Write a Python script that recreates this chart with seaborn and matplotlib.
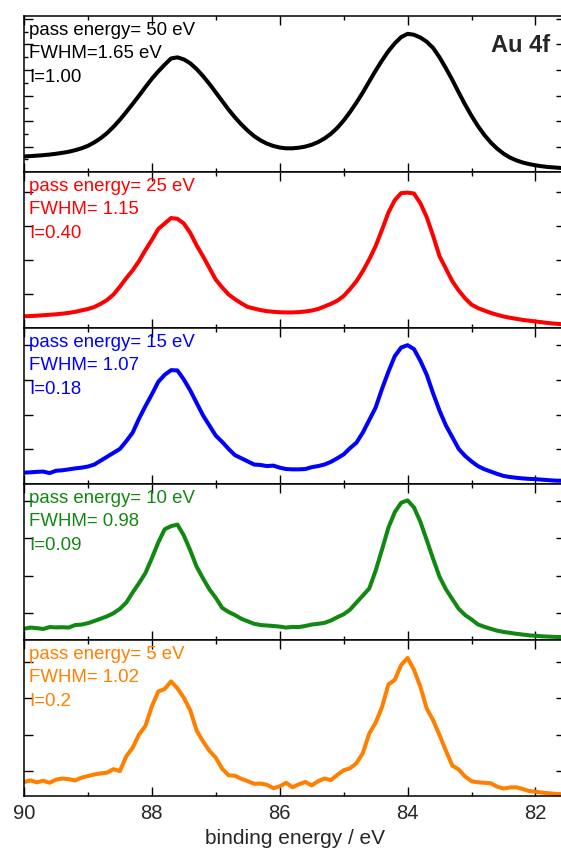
import numpy as np
import matplotlib
matplotlib.use("Agg")
import matplotlib.pyplot as plt
import seaborn as sns
from matplotlib.ticker import FixedLocator, MultipleLocator

# binding energy grid (eV), 0.1 eV steps
energy = np.linspace(90.0, 81.6, 85)

# normalised intensities (top to bottom)
pe50 = [0.100, 0.102, 0.105, 0.108, 0.112, 0.117, 0.123, 0.130, 0.140, 0.152,
        0.168, 0.190, 0.217, 0.250, 0.290, 0.335, 0.385, 0.437, 0.490, 0.545,
        0.598, 0.645, 0.688, 0.728, 0.735, 0.722, 0.697, 0.660, 0.615, 0.565,
        0.510, 0.455, 0.400, 0.350, 0.305, 0.265, 0.230, 0.203, 0.182, 0.167,
        0.157, 0.152, 0.152, 0.156, 0.163, 0.175, 0.192, 0.215, 0.245, 0.283,
        0.330, 0.385, 0.445, 0.510, 0.580, 0.650, 0.715, 0.775, 0.825, 0.865,
        0.886, 0.880, 0.862, 0.835, 0.795, 0.735, 0.665, 0.590, 0.510, 0.432,
        0.360, 0.295, 0.238, 0.190, 0.150, 0.118, 0.093, 0.075, 0.061, 0.051,
        0.043, 0.037, 0.032, 0.029, 0.026]

pe25 = [0.075, 0.077, 0.079, 0.082, 0.085, 0.088, 0.092, 0.097, 0.104, 0.113,
        0.122, 0.135, 0.155, 0.180, 0.215, 0.265, 0.320, 0.370, 0.430, 0.500,
        0.565, 0.635, 0.670, 0.705, 0.700, 0.670, 0.610, 0.530, 0.460, 0.385,
        0.310, 0.260, 0.215, 0.185, 0.158, 0.135, 0.125, 0.115, 0.108, 0.104,
        0.101, 0.100, 0.100, 0.102, 0.106, 0.112, 0.122, 0.138, 0.155, 0.175,
        0.205, 0.250, 0.300, 0.365, 0.440, 0.525, 0.630, 0.740, 0.820, 0.865,
        0.868, 0.862, 0.800, 0.710, 0.590, 0.460, 0.380, 0.300, 0.240, 0.190,
        0.150, 0.128, 0.112, 0.097, 0.085, 0.074, 0.066, 0.059, 0.052, 0.047,
        0.042, 0.037, 0.032, 0.028, 0.025]

pe15 = [0.073, 0.075, 0.078, 0.080, 0.070, 0.085, 0.088, 0.094, 0.100, 0.105,
        0.112, 0.125, 0.150, 0.175, 0.200, 0.225, 0.275, 0.330, 0.420, 0.500,
        0.575, 0.655, 0.700, 0.730, 0.728, 0.670, 0.600, 0.520, 0.440, 0.375,
        0.310, 0.270, 0.225, 0.185, 0.165, 0.145, 0.125, 0.122, 0.115, 0.118,
        0.105, 0.096, 0.094, 0.094, 0.096, 0.108, 0.115, 0.125, 0.142, 0.165,
        0.190, 0.230, 0.265, 0.330, 0.410, 0.490, 0.610, 0.720, 0.820, 0.875,
        0.890, 0.865, 0.790, 0.700, 0.580, 0.470, 0.375, 0.300, 0.225, 0.180,
        0.145, 0.115, 0.095, 0.080, 0.065, 0.052, 0.045, 0.040, 0.036, 0.033,
        0.031, 0.028, 0.025, 0.022, 0.021]

pe10 = [0.072, 0.080, 0.076, 0.071, 0.083, 0.081, 0.082, 0.080, 0.096, 0.099,
        0.108, 0.122, 0.137, 0.152, 0.172, 0.200, 0.240, 0.305, 0.365, 0.430,
        0.525, 0.625, 0.710, 0.730, 0.740, 0.670, 0.575, 0.470, 0.395, 0.325,
        0.270, 0.206, 0.180, 0.160, 0.136, 0.120, 0.104, 0.096, 0.093, 0.090,
        0.086, 0.080, 0.084, 0.083, 0.090, 0.099, 0.104, 0.110, 0.125, 0.146,
        0.165, 0.195, 0.240, 0.285, 0.330, 0.444, 0.580, 0.720, 0.820, 0.880,
        0.895, 0.850, 0.758, 0.640, 0.520, 0.405, 0.325, 0.262, 0.200, 0.160,
        0.132, 0.100, 0.085, 0.072, 0.060, 0.052, 0.046, 0.040, 0.035, 0.030,
        0.027, 0.024, 0.022, 0.020, 0.019]

pe5 = [0.090, 0.100, 0.088, 0.098, 0.085, 0.105, 0.112, 0.108, 0.100, 0.118,
       0.128, 0.138, 0.145, 0.150, 0.172, 0.160, 0.255, 0.310, 0.395, 0.450,
       0.575, 0.670, 0.686, 0.735, 0.690, 0.630, 0.550, 0.420, 0.350, 0.290,
       0.245, 0.175, 0.133, 0.130, 0.110, 0.095, 0.078, 0.080, 0.072, 0.050,
       0.062, 0.085, 0.056, 0.075, 0.090, 0.068, 0.095, 0.112, 0.102, 0.135,
       0.165, 0.178, 0.210, 0.275, 0.400, 0.470, 0.570, 0.715, 0.745, 0.840,
       0.885, 0.810, 0.700, 0.560, 0.485, 0.390, 0.290, 0.195, 0.170, 0.125,
       0.095, 0.088, 0.085, 0.082, 0.060, 0.048, 0.055, 0.056, 0.045, 0.032,
       0.028, 0.022, 0.018, 0.014, 0.012]

spectra = [pe50, pe25, pe15, pe10, pe5]
colors = ["black", "#ff0000", "#0000ff", "#118811", "#ff8000"]
labels = [["pass energy= 50 eV", "FWHM=1.65 eV", "I=1.00"],
          ["pass energy= 25 eV", "FWHM= 1.15", "I=0.40"],
          ["pass energy= 15 eV", "FWHM= 1.07", "I=0.18"],
          ["pass energy= 10 eV", "FWHM= 0.98", "I=0.09"],
          ["pass energy= 5 eV", "FWHM= 1.02", "I=0.2"]]
yticks = [[0.1635, 0.327, 0.4905, 0.654, 0.8175, 0.981],
          [0.218, 0.437, 0.655, 0.874],
          [0.222, 0.445, 0.667, 0.890],
          [0.175, 0.411, 0.652, 0.893],
          [0.160, 0.391, 0.628, 0.859]]

sns.set_style("ticks")
plt.rcParams["font.family"] = ["Liberation Sans", "DejaVu Sans"]

fig, axes = plt.subplots(5, 1, sharex=True, figsize=(5.61, 8.48), dpi=100)
fig.subplots_adjust(left=0.0428, right=1.008, top=0.9811, bottom=0.0613, hspace=0)

for i, ax in enumerate(axes):
    sns.lineplot(x=energy, y=spectra[i], ax=ax, color=colors[i], linewidth=2.9)
    ax.set_xlim(90, 81.53)
    ax.set_ylim(0, 1)
    ax.set_ylabel("")
    for s in ax.spines.values():
        s.set_visible(True)
        s.set_linewidth(1.1)
        s.set_color("black")
    ax.xaxis.set_major_locator(MultipleLocator(2))
    ax.xaxis.set_minor_locator(MultipleLocator(1))
    ax.yaxis.set_major_locator(FixedLocator(yticks[i]))
    if i == 0:
        ax.yaxis.set_minor_locator(MultipleLocator(0.08175))
    ax.tick_params(which="both", direction="in", top=True, right=True,
                   labelleft=False, width=1.0, color="black")
    ax.tick_params(which="major", length=6.5)
    ax.tick_params(which="minor", length=3.2)
    for k, t in enumerate(labels[i]):
        ax.text(0.009, 0.878 - k * 0.149, t, transform=ax.transAxes,
                color=colors[i], fontsize=13.4, va="baseline", ha="left")

axes[0].text(0.972, 0.77, "Au 4f", transform=axes[0].transAxes,
             fontsize=17, fontweight="bold", ha="right", va="baseline")

axes[-1].tick_params(axis="x", labelsize=14.5, pad=6)
axes[-1].set_xlabel("binding energy / eV", fontsize=15, labelpad=4)

fig.savefig("out.png", dpi=100)
